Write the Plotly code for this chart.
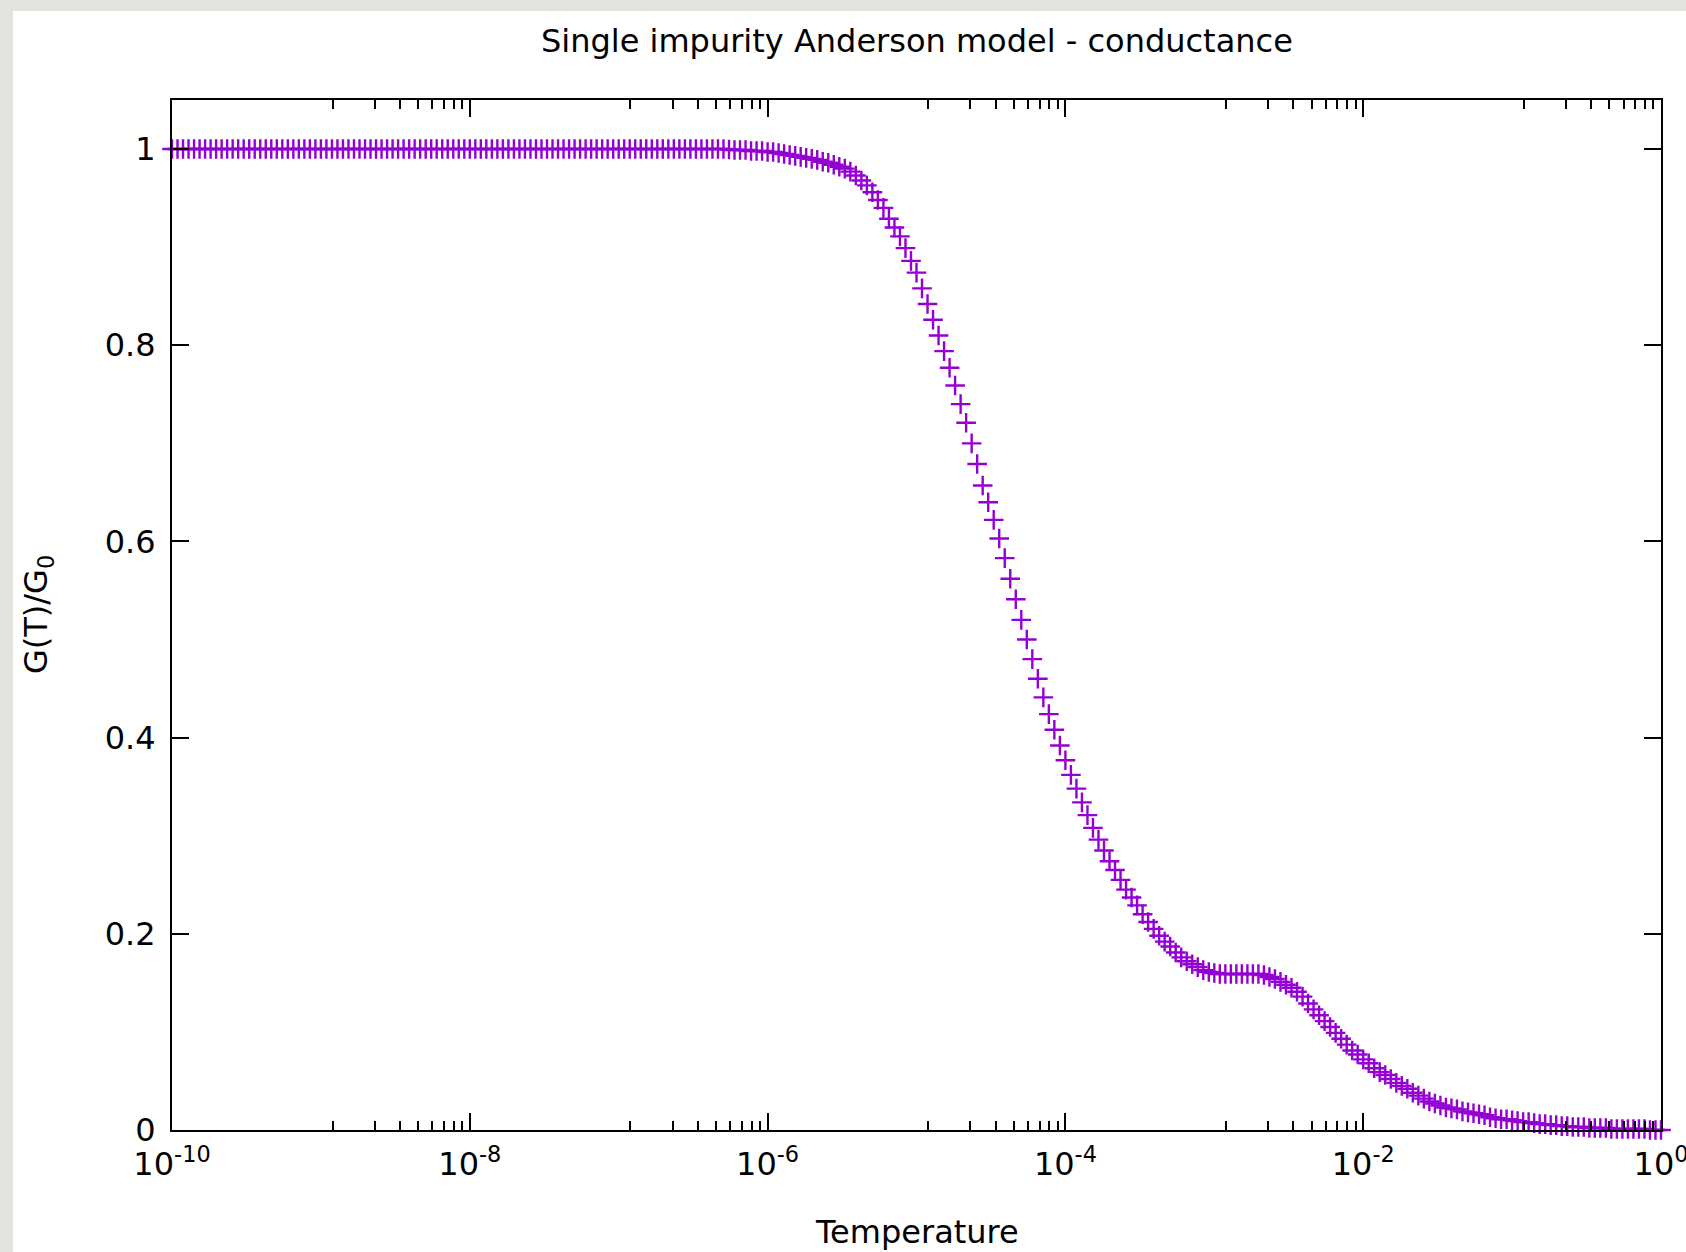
import plotly.graph_objects as go

# ---------------- data ----------------
points_per_decade = 27
log_t_min, log_t_max = -10, 0
# sampling grid of the temperature (log-spaced, as in the source data)
temperature = [10 ** (log_t_min + k / points_per_decade)
               for k in range((log_t_max - log_t_min) * points_per_decade + 1)]

conductance = [
    # 1e-10 ... ~1e-6.3 : unitary plateau
    1.000, 1.000, 1.000, 1.000, 1.000, 1.000, 1.000, 1.000, 1.000, 1.000,
    1.000, 1.000, 1.000, 1.000, 1.000, 1.000, 1.000, 1.000, 1.000, 1.000,
    1.000, 1.000, 1.000, 1.000, 1.000, 1.000, 1.000, 1.000, 1.000, 1.000,
    1.000, 1.000, 1.000, 1.000, 1.000, 1.000, 1.000, 1.000, 1.000, 1.000,
    1.000, 1.000, 1.000, 1.000, 1.000, 1.000, 1.000, 1.000, 1.000, 1.000,
    1.000, 1.000, 1.000, 1.000, 1.000, 1.000, 1.000, 1.000, 1.000, 1.000,
    1.000, 1.000, 1.000, 1.000, 1.000, 1.000, 1.000, 1.000, 1.000, 1.000,
    1.000, 1.000, 1.000, 1.000, 1.000, 1.000, 1.000, 1.000, 1.000, 1.000,
    1.000, 1.000, 1.000, 1.000, 1.000, 1.000, 1.000, 1.000, 1.000, 1.000,
    1.000, 1.000, 1.000, 1.000, 1.000, 1.000, 1.000, 1.000, 1.000, 1.000,
    1.000,
    # Kondo crossover
    0.9995, 0.999, 0.999, 0.999, 0.998, 0.998, 0.998, 0.997, 0.997, 0.996,
    0.995, 0.994, 0.993, 0.992, 0.991, 0.990, 0.989, 0.987, 0.986, 0.984,
    0.982, 0.980, 0.977, 0.973, 0.968, 0.963, 0.956, 0.948, 0.940, 0.929,
    0.920, 0.911, 0.899, 0.886, 0.874, 0.858, 0.842, 0.826, 0.810, 0.794,
    0.777, 0.759, 0.740, 0.721, 0.700, 0.679, 0.657, 0.640, 0.622, 0.603,
    0.583, 0.562, 0.541, 0.520, 0.500, 0.480, 0.460, 0.441, 0.424, 0.408,
    0.392, 0.377, 0.362, 0.348, 0.334, 0.321, 0.308, 0.296, 0.285, 0.274,
    0.265, 0.255, 0.245, 0.237, 0.229, 0.220, 0.212, 0.205, 0.198, 0.192,
    0.187, 0.181, 0.176, 0.172, 0.169, 0.166, 0.163, 0.161, 0.160, 0.159,
    # intermediate plateau
    0.159, 0.159, 0.159, 0.159, 0.159, 0.159, 0.159,
    0.158, 0.156, 0.154,
    # high-temperature decay
    0.151, 0.148, 0.145, 0.141, 0.136, 0.129, 0.123, 0.117, 0.111, 0.105,
    0.099, 0.093, 0.087, 0.081, 0.077, 0.072, 0.068, 0.063, 0.059, 0.056,
    0.052, 0.048, 0.045, 0.042, 0.038, 0.035, 0.032, 0.029, 0.027, 0.025,
    0.023, 0.022, 0.021, 0.019, 0.018, 0.017, 0.016, 0.015, 0.013, 0.012,
    0.011, 0.011, 0.010, 0.009, 0.008, 0.008, 0.007, 0.006, 0.006, 0.005,
    0.005, 0.004, 0.004, 0.003, 0.003, 0.003, 0.002, 0.002, 0.002, 0.002,
    0.001, 0.001, 0.001, 0.001, 0.001, 0.001, 0.001, 0.000, 0.000, 0.000,
]
assert len(conductance) == len(temperature)

x_major_exponents = [-10, -8, -6, -4, -2, 0]
x_major_vals = [10.0 ** e for e in x_major_exponents]
x_major_text = [f"10<sup>{e}</sup>" for e in x_major_exponents]
# gnuplot-style minor tics: linear subdivision of each two-decade interval
x_minor_vals = []
for e in x_major_exponents[:-1]:
    lo, hi = 10.0 ** e, 10.0 ** (e + 2)
    x_minor_vals += [lo + j * (hi - lo) / 9 for j in range(1, 9)]

y_tick_vals = [0, 0.2, 0.4, 0.6, 0.8, 1]
y_tick_text = ["0", "0.2", "0.4", "0.6", "0.8", "1"]

title_text = "Single impurity Anderson model - conductance"
x_title = "Temperature"
y_title = "G(T)/G<sub>0</sub>"

# ---------------- styling ----------------
W, H = 1686, 1252
ML, MR, MT, MB = 172, 25, 100, 122
PW, PH = W - ML - MR, H - MT - MB
FONT = "DejaVu Sans"
PURPLE = "#9400d3"
FS = 32

fig = go.Figure()
fig.add_trace(go.Scatter(
    x=temperature, y=conductance, mode="markers",
    marker=dict(symbol="cross-thin", size=14, color=PURPLE,
                line=dict(color=PURPLE, width=2.4)),
    cliponaxis=False, showlegend=False, hoverinfo="skip",
))

axis_common = dict(
    showline=True, linecolor="black", linewidth=2, mirror="allticks",
    ticks="inside", ticklen=17, tickwidth=2, tickcolor="black",
    showgrid=False, zeroline=False,
    tickfont=dict(family=FONT, size=FS, color="black"),
    ticklabeloverflow="allow", automargin=False,
)

fig.update_xaxes(
    type="log", range=[log_t_min, log_t_max],
    tickmode="array", tickvals=x_major_vals, ticktext=x_major_text,
    minor=dict(tickmode="array", tickvals=x_minor_vals, ticks="inside",
               ticklen=9, tickwidth=2, tickcolor="black", showgrid=False),
    ticklabelstandoff=5,
    **axis_common,
)
fig.update_yaxes(
    range=[0, 1.05], tickmode="array", tickvals=y_tick_vals, ticktext=y_tick_text,
    ticklabelstandoff=8,
    **axis_common,
)

# white slide card over gray backdrop
fig.add_shape(type="rect", xref="paper", yref="paper", layer="below",
              x0=(13 - ML) / PW, x1=(W - ML) / PW,
              y0=-(H - MT - PH) / PH - 0.01, y1=(H - MB - 11) / PH,
              fillcolor="white", line=dict(width=0))

fig.add_annotation(text=title_text, xref="paper", yref="paper",
                   x=0.5, y=1 + (MT - 41) / PH, xanchor="center", yanchor="middle",
                   showarrow=False, font=dict(family=FONT, size=FS, color="black"))
fig.add_annotation(text=x_title, xref="paper", yref="paper",
                   x=0.5, y=-(1232 - (H - MB)) / PH, xanchor="center", yanchor="middle",
                   showarrow=False, font=dict(family=FONT, size=FS, color="black"))
fig.add_annotation(text=y_title, xref="paper", yref="paper",
                   x=-(ML - 38) / PW, y=0.5, xanchor="center", yanchor="middle",
                   textangle=-90, showarrow=False,
                   font=dict(family=FONT, size=FS, color="black"))

fig.update_layout(
    width=W, height=H,
    margin=dict(l=ML, r=MR, t=MT, b=MB, pad=0, autoexpand=False),
    paper_bgcolor="#e4e4df", plot_bgcolor="white",
    font=dict(family=FONT, color="black"),
    showlegend=False,
)

fig.write_html("out.html")
